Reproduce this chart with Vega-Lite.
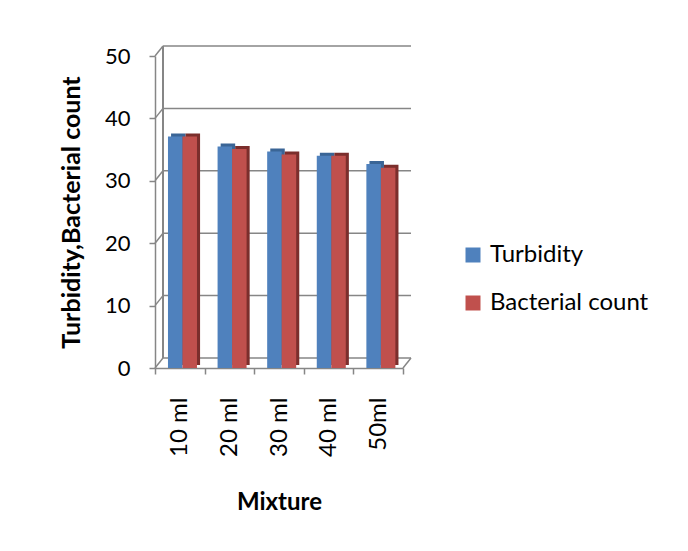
{
  "$schema": "https://vega.github.io/schema/vega-lite/v6.json",
  "autosize": {"type": "none"},
  "padding": {"left": 155, "top": 56, "right": 285, "bottom": 183},
  "width": 248,
  "height": 312,
  "background": "white",
  "config": {
    "view": {"stroke": null},
    "font": "Lato",
    "axis": {"labelFont": "Lato", "titleFont": "Lato", "labelColor": "#000000", "titleColor": "#000000"},
    "legend": {"labelFont": "Lato"}
  },
  "datasets": {
    "bars": [
      {"mixture": "10 ml", "series": "Turbidity", "value": 37.1},
      {"mixture": "10 ml", "series": "Bacterial count", "value": 37.1},
      {"mixture": "20 ml", "series": "Turbidity", "value": 35.5},
      {"mixture": "20 ml", "series": "Bacterial count", "value": 35.1},
      {"mixture": "30 ml", "series": "Turbidity", "value": 34.7},
      {"mixture": "30 ml", "series": "Bacterial count", "value": 34.2},
      {"mixture": "40 ml", "series": "Turbidity", "value": 34.0},
      {"mixture": "40 ml", "series": "Bacterial count", "value": 34.0},
      {"mixture": "50ml", "series": "Turbidity", "value": 32.7},
      {"mixture": "50ml", "series": "Bacterial count", "value": 32.1}
    ],
    "grid": [{"g": 0}, {"g": 10}, {"g": 20}, {"g": 30}, {"g": 40}, {"g": 50}]
  },
  "layer": [
    {
      "data": {"name": "grid"},
      "mark": {"type": "rule", "color": "#868686", "strokeWidth": 1.5, "xOffset": 8, "x2Offset": 8, "yOffset": -10, "y2Offset": -10},
      "encoding": {
        "x": {"datum": "10 ml", "bandPosition": 0},
        "x2": {"datum": "50ml", "bandPosition": 1},
        "y": {
          "field": "g", "type": "quantitative",
          "scale": {"domain": [0, 50]},
          "axis": {
            "title": "Turbidity,Bacterial count", "titleFontSize": 25, "titleFontWeight": "bold", "titlePadding": 20,
            "values": [0, 10, 20, 30, 40, 50], "labelFontSize": 22, "labelPadding": 19, "grid": false,
            "domainColor": "#868686", "domainWidth": 1.5, "tickColor": "#868686", "tickWidth": 1.5, "tickSize": 6
          }
        },
        "y2": {"field": "g"}
      }
    },
    {
      "data": {"name": "grid"},
      "mark": {"type": "rule", "color": "#868686", "strokeWidth": 1.5, "x2Offset": 8, "y2Offset": -10},
      "encoding": {
        "x": {"datum": "10 ml", "bandPosition": 0},
        "x2": {"datum": "10 ml", "bandPosition": 0},
        "y": {"field": "g", "type": "quantitative"},
        "y2": {"field": "g"}
      }
    },
    {
      "data": {"name": "grid"},
      "mark": {"type": "rule", "color": "#868686", "strokeWidth": 1.5, "xOffset": 8, "x2Offset": 8, "yOffset": -10, "y2Offset": -10},
      "encoding": {
        "x": {"datum": "10 ml", "bandPosition": 0},
        "y": {"datum": 0},
        "y2": {"datum": 50}
      }
    },
    {
      "data": {"values": [{"c": 1}]},
      "mark": {"type": "rule", "color": "#868686", "strokeWidth": 1.5, "x2Offset": 8, "y2Offset": -10},
      "encoding": {
        "x": {"datum": "50ml", "bandPosition": 1},
        "x2": {"datum": "50ml", "bandPosition": 1},
        "y": {"datum": 0},
        "y2": {"datum": 0}
      }
    },
    {
      "data": {"name": "bars"},
      "mark": {"type": "bar", "yOffset": -3},
      "encoding": {
        "x": {"field": "mixture", "type": "nominal"},
        "xOffset": {"field": "series", "type": "nominal", "sort": ["Turbidity", "Bacterial count"], "scale": {"paddingInner": 0, "paddingOuter": 0.71, "align": 0.78}},
        "y": {"field": "value", "type": "quantitative"},
        "color": {"field": "series", "type": "nominal", "sort": ["Turbidity", "Bacterial count"], "scale": {"range": ["#3A6596", "#7B2E2C"]}, "legend": null}
      }
    },
    {
      "data": {"name": "bars"},
      "mark": {"type": "bar"},
      "encoding": {
        "x": {
          "field": "mixture", "type": "nominal",
          "scale": {"domain": ["10 ml", "20 ml", "30 ml", "40 ml", "50ml"], "paddingInner": 0, "paddingOuter": 0},
          "axis": {
            "title": "Mixture", "titleFontSize": 24, "titleFontWeight": "bold", "titlePadding": 34,
            "labelAngle": -90, "labelFontSize": 24, "labelPadding": 23, "labelAlign": "right", "labelBaseline": "middle",
            "domainColor": "#868686", "domainWidth": 1.5, "tickColor": "#868686", "tickWidth": 1.5, "tickSize": 6, "tickBand": "extent"
          }
        },
        "xOffset": {"field": "series", "type": "nominal", "sort": ["Turbidity", "Bacterial count"], "scale": {"paddingInner": 0, "paddingOuter": 0.71, "align": 0.63}},
        "y": {"field": "value", "type": "quantitative"},
        "color": {
          "field": "series", "type": "nominal", "sort": ["Turbidity", "Bacterial count"],
          "scale": {"range": ["#4F81BD", "#C0504D"]},
          "legend": {
            "title": null, "orient": "none", "legendX": 306, "legendY": 187,
            "symbolType": "square", "symbolSize": 225, "symbolStrokeWidth": 0,
            "labelFontSize": 24, "labelOffset": 5, "rowPadding": 24, "padding": 0
          }
        }
      }
    }
  ],
  "resolve": {"scale": {"color": "independent", "xOffset": "independent"}}
}
